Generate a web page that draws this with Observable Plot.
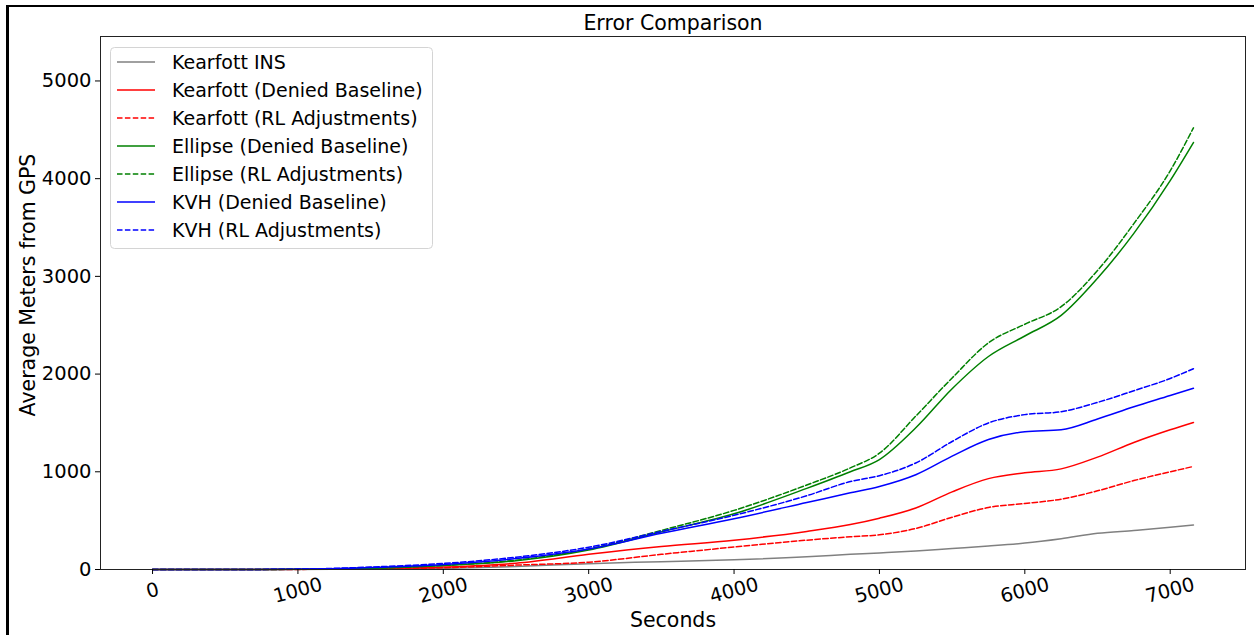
<!DOCTYPE html>
<html>
<head>
<meta charset="utf-8">
<script src="https://cdn.jsdelivr.net/npm/d3@7"></script>
<script src="https://cdn.jsdelivr.net/npm/@observablehq/plot@0.6"></script>
<style>
  html, body { margin: 0; padding: 0; background: #fff; overflow: hidden; }
  #wrap { position: relative; width: 1254px; height: 635px; font-family: "DejaVu Sans", sans-serif; }
  #border { position: absolute; left: 6px; top: 5px; width: 1300px; height: 700px;
            border-left: 3px solid #000; border-top: 2px solid #000; pointer-events: none; }
  #legend { position: absolute; left: 0; top: 0; pointer-events: none; }
</style>
</head>
<body>
<div id="wrap"><div id="border"></div></div>
<script>
// ---- data ----
const seconds = [0, 500, 1000, 1500, 2000, 2500, 3000, 3500, 4000, 4500, 4800, 5000, 5250, 5500, 5750, 6000, 6250, 6500, 6750, 7000, 7160];
const kearfottINS      = [0, 0, 1, 3, 10, 30, 60, 80, 100, 130, 155, 170, 190, 215, 240, 270, 315, 370, 400, 432, 455];
const kearfottDenied   = [0, 0, 2, 8, 25, 65, 155, 235, 300, 390, 460, 525, 630, 795, 930, 990, 1030, 1150, 1300, 1430, 1505];
const kearfottRL       = [0, 0, 1, 5, 18, 45, 75, 155, 230, 300, 335, 355, 420, 535, 635, 675, 720, 805, 910, 1000, 1055];
const ellipseDenied    = [0, 0, 2, 12, 40, 90, 200, 385, 570, 830, 1000, 1125, 1450, 1850, 2180, 2390, 2600, 2980, 3440, 3980, 4370];
const ellipseRL        = [0, 0, 2, 13, 42, 95, 210, 400, 605, 865, 1040, 1190, 1570, 1960, 2320, 2510, 2690, 3060, 3540, 4080, 4520];
const kvhDenied        = [0, 0, 3, 20, 52, 112, 210, 370, 520, 685, 785, 850, 970, 1160, 1330, 1410, 1430, 1540, 1665, 1780, 1855];
const kvhRL            = [0, 0, 4, 25, 62, 126, 228, 390, 555, 755, 900, 960, 1090, 1310, 1500, 1585, 1615, 1710, 1830, 1955, 2055];

const seriesNames  = ["Kearfott INS", "Kearfott (Denied Baseline)", "Kearfott (RL Adjustments)", "Ellipse (Denied Baseline)", "Ellipse (RL Adjustments)", "KVH (Denied Baseline)", "KVH (RL Adjustments)"];
const seriesValues = [kearfottINS, kearfottDenied, kearfottRL, ellipseDenied, ellipseRL, kvhDenied, kvhRL];
const seriesColors = ["#808080", "#ff0000", "#ff0000", "#008000", "#008000", "#0000ff", "#0000ff"];
const seriesDashed = [false, false, true, false, true, false, true];

const xTicks = [0, 1000, 2000, 3000, 4000, 5000, 6000, 7000];
const yTicks = [0, 1000, 2000, 3000, 4000, 5000];

const titleText = "Error Comparison";
const xLabel = "Seconds";
const yLabel = "Average Meters from GPS";

// ---- build ----
const W = 1254, H = 635;
const mL = 100, mR = 9, mT = 36, mB = 66;
const DASH = "5.5,2.4";

const rows = [];
seriesNames.forEach((name, i) => {
  seriesValues[i].forEach((v, j) => rows.push({series: name, idx: i, t: seconds[j], v}));
});

const lineMarks = seriesNames.map((name, i) =>
  Plot.line(rows.filter(d => d.idx === i), {
    x: "t", y: "v",
    stroke: seriesColors[i],
    strokeWidth: 1.5,
    strokeDasharray: seriesDashed[i] ? DASH : null,
    curve: "monotone-x"
  })
);

const chart = Plot.plot({
  width: W, height: H,
  marginLeft: mL, marginRight: mR, marginTop: mT, marginBottom: mB,
  style: {fontFamily: "DejaVu Sans, sans-serif", color: "#000", background: "transparent"},
  x: {domain: [-358, 7518]},
  y: {domain: [0, 5455]},
  marks: [
    ...lineMarks,
    Plot.frame({stroke: "#222", strokeWidth: 1}),
    Plot.axisY({ticks: yTicks, tickSize: 5, tickPadding: 4, fontSize: 19.5, label: null, tickFormat: d => String(d)}),
    Plot.axisX({ticks: xTicks, tickSize: 5, tickFormat: () => "", label: null}),
    Plot.text(xTicks, {x: d => d, text: d => String(d), frameAnchor: "bottom", dy: 21, rotate: -15, fontSize: 19.5, textAnchor: "middle", lineAnchor: "middle", fill: "#000"}),
    Plot.text([titleText], {text: d => d, frameAnchor: "top", dy: -13, fontSize: 20.5, textAnchor: "middle", lineAnchor: "middle", fill: "#000"}),
    Plot.text([xLabel], {text: d => d, frameAnchor: "bottom", dy: 51, fontSize: 20.5, textAnchor: "middle", lineAnchor: "middle", fill: "#000"}),
    Plot.text([yLabel], {text: d => d, frameAnchor: "left", dx: -72, dy: -18, rotate: -90, fontSize: 20.5, textAnchor: "middle", lineAnchor: "middle", fill: "#000"})
  ]
});

const wrap = document.getElementById("wrap");
wrap.insertBefore(chart, wrap.firstChild);

// ---- legend (overlay) ----
const leg = d3.select(wrap).append("svg")
  .attr("id", "legend").attr("width", W).attr("height", H);
leg.append("rect")
  .attr("x", 110.5).attr("y", 47.5).attr("width", 322).attr("height", 201)
  .attr("rx", 4).attr("fill", "rgba(255,255,255,0.8)").attr("stroke", "#d4d4d4");
seriesNames.forEach((name, i) => {
  const cy = 62 + i * 28;
  leg.append("line")
    .attr("x1", 117).attr("x2", 155).attr("y1", cy).attr("y2", cy)
    .attr("stroke", seriesColors[i]).attr("stroke-width", 1.5)
    .attr("stroke-dasharray", seriesDashed[i] ? DASH : null);
  leg.append("text")
    .attr("x", 172).attr("y", cy).attr("dy", "0.35em")
    .attr("font-size", 19).attr("font-family", "DejaVu Sans, sans-serif")
    .attr("fill", "#000").text(name);
});
</script>
</body>
</html>
